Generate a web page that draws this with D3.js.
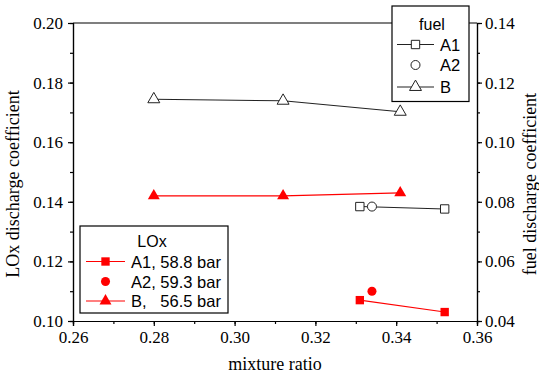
<!DOCTYPE html>
<html>
<head>
<meta charset="utf-8">
<script src="https://cdn.jsdelivr.net/npm/d3@7"></script>
<style>
  body { margin: 0; background: #fff; }
  svg { display: block; }
  .axis text { font-family: "Liberation Serif", "Times New Roman", serif; font-size: 17px; fill: #000; }
</style>
</head>
<body>
<div id="chart"></div>
<script>
// data
const mixA1 = [0.331, 0.352];
const mixA2 = [0.334];
const mixB = [0.280, 0.312, 0.341];

const loxA1 = [0.107, 0.103];
const loxA2 = [0.110];
const loxB = [0.142, 0.142, 0.143];

const fuelA1 = [0.0784, 0.0776];
const fuelA2 = [0.0784];
const fuelB = [0.1144, 0.1139, 0.1102];

const xTicks = [0.26, 0.28, 0.30, 0.32, 0.34, 0.36];
const yLeftTicks = [0.10, 0.12, 0.14, 0.16, 0.18, 0.20];
const yRightTicks = [0.04, 0.06, 0.08, 0.10, 0.12, 0.14];

const W = 539, H = 380;
const margin = { top: 23, right: 62, bottom: 59, left: 73 };
const width = W - margin.left - margin.right;
const height = H - margin.top - margin.bottom;

const svg = d3.select("#chart").append("svg")
    .attr("width", W)
    .attr("height", H);

const g = svg.append("g")
    .attr("transform", `translate(${margin.left},${margin.top})`);

const x = d3.scaleLinear().domain([0.26, 0.36]).range([0, width]);
const yL = d3.scaleLinear().domain([0.10, 0.20]).range([height, 0]);
const yR = d3.scaleLinear().domain([0.04, 0.14]).range([height, 0]);

const serif = "Liberation Serif";
const sans = "Liberation Sans";

// minor ticks first, then major axes
const minor = (axis, scale, n) => axis(scale).ticks(n).tickSize(3).tickFormat("");
g.append("g").attr("transform", `translate(0,${height})`)
    .call(minor(d3.axisBottom, x, 10));
g.append("g").call(minor(d3.axisLeft, yL, 10));
g.append("g").attr("transform", `translate(${width},0)`)
    .call(minor(d3.axisRight, yR, 10));

g.append("g").attr("class", "axis").attr("transform", `translate(0,${height})`)
    .call(d3.axisBottom(x).tickValues(xTicks).tickSize(5).tickPadding(5).tickFormat(d3.format(".2f")));
g.append("g").attr("class", "axis")
    .call(d3.axisLeft(yL).tickValues(yLeftTicks).tickSize(5).tickPadding(5).tickFormat(d3.format(".2f")));
g.append("g").attr("class", "axis").attr("transform", `translate(${width},0)`)
    .call(d3.axisRight(yR).tickValues(yRightTicks).tickSize(5).tickPadding(3).tickFormat(d3.format(".2f")));

g.selectAll(".axis")
    .attr("font-family", serif)
    .attr("font-size", 17);
g.selectAll(".domain").attr("stroke", "#000").attr("stroke-width", 1.2);
g.selectAll(".tick line").attr("stroke", "#000").attr("stroke-width", 1.2);

// top frame
g.append("line")
    .attr("x1", 0).attr("x2", width)
    .attr("y1", 0).attr("y2", 0)
    .attr("stroke", "#000").attr("stroke-width", 1.2);

// axis titles
svg.append("text")
    .attr("x", margin.left + width / 2)
    .attr("y", 370)
    .attr("text-anchor", "middle")
    .attr("font-family", serif).attr("font-size", 18)
    .text("mixture ratio");

svg.append("text")
    .attr("transform", "translate(19,184) rotate(-90)")
    .attr("text-anchor", "middle")
    .attr("font-family", serif).attr("font-size", 18)
    .text("LOx discharge coefficient");

svg.append("text")
    .attr("transform", "translate(536,184) rotate(-90)")
    .attr("text-anchor", "middle")
    .attr("font-family", serif).attr("font-size", 18)
    .text("fuel discharge coefficient");

// series
const sym = {
    square: d3.symbol().type(d3.symbolSquare).size(70),
    circle: d3.symbol().type(d3.symbolCircle).size(64),
    triangle: d3.symbol().type(d3.symbolTriangle).size(62)
};

function drawSeries(xs, ys, yScale, shape, color, filled, withLine) {
    const pts = xs.map((v, i) => [x(v), yScale(ys[i])]);
    if (withLine) {
        g.append("path")
            .attr("d", d3.line()(pts))
            .attr("fill", "none")
            .attr("stroke", color)
            .attr("stroke-width", 1.1);
    }
    g.selectAll(null)
        .data(pts)
        .join("path")
        .attr("transform", d => `translate(${d[0]},${d[1]})`)
        .attr("d", sym[shape]())
        .attr("fill", filled ? color : "#fff")
        .attr("stroke", filled ? "none" : color)
        .attr("stroke-width", 1);
}

drawSeries(mixB, fuelB, yR, "triangle", "#222", false, true);
drawSeries(mixA1, fuelA1, yR, "square", "#222", false, true);
drawSeries(mixA2, fuelA2, yR, "circle", "#222", false, false);

drawSeries(mixB, loxB, yL, "triangle", "#ff0000", true, true);
drawSeries(mixA1, loxA1, yL, "square", "#ff0000", true, true);
drawSeries(mixA2, loxA2, yL, "circle", "#ff0000", true, false);

// legends
function legend(box, title, titleX, titleY, rows) {
    const lg = svg.append("g");
    lg.append("rect")
        .attr("x", box[0]).attr("y", box[1])
        .attr("width", box[2]).attr("height", box[3])
        .attr("fill", "#fff")
        .attr("stroke", "#000").attr("stroke-width", 1.2);
    lg.append("text")
        .attr("x", titleX).attr("y", titleY)
        .attr("text-anchor", "middle")
        .attr("dominant-baseline", "central")
        .attr("font-family", sans).attr("font-size", 16)
        .text(title);
    rows.forEach(r => {
        if (r.line) {
            lg.append("line")
                .attr("x1", r.x0).attr("x2", r.x1)
                .attr("y1", r.y).attr("y2", r.y)
                .attr("stroke", r.color).attr("stroke-width", 1.1);
        }
        lg.append("path")
            .attr("transform", `translate(${(r.x0 + r.x1) / 2},${r.y})`)
            .attr("d", sym[r.shape]())
            .attr("fill", r.filled ? r.color : "#fff")
            .attr("stroke", r.filled ? "none" : r.color);
        lg.append("text")
            .attr("x", r.x1 + 6).attr("y", r.y)
            .attr("dominant-baseline", "central")
            .attr("font-family", sans).attr("font-size", 16.5)
            .style("white-space", "pre")
            .text(r.label);
    });
}

const loxLabels = ["A1, 58.8 bar", "A2, 59.3 bar", "B,   56.5 bar"];
const fuelLabels = ["A1", "A2", "B"];

legend([80, 226, 148, 87], "LOx", 152, 241, [
    { label: loxLabels[0], shape: "square", color: "#ff0000", filled: true, line: true, x0: 86, x1: 125, y: 261.5 },
    { label: loxLabels[1], shape: "circle", color: "#ff0000", filled: true, line: false, x0: 86, x1: 125, y: 281.5 },
    { label: loxLabels[2], shape: "triangle", color: "#ff0000", filled: true, line: true, x0: 86, x1: 125, y: 301 }
]);

legend([392, 6, 77, 95.5], "fuel", 432, 24, [
    { label: fuelLabels[0], shape: "square", color: "#222", filled: false, line: true, x0: 397, x1: 434, y: 44.5 },
    { label: fuelLabels[1], shape: "circle", color: "#222", filled: false, line: false, x0: 397, x1: 434, y: 65 },
    { label: fuelLabels[2], shape: "triangle", color: "#222", filled: false, line: true, x0: 397, x1: 434, y: 87 }
]);
</script>
</body>
</html>
